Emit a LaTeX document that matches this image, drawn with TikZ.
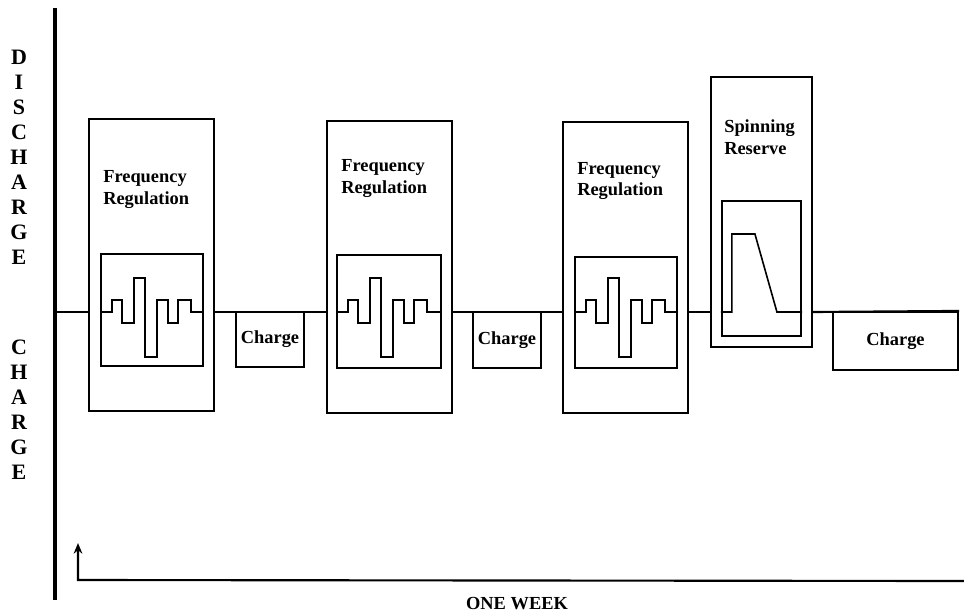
\documentclass[tikz,border=0pt]{standalone}
\usepackage{fontspec}
\setmainfont{Liberation Serif}
\usetikzlibrary{arrows.meta}
\begin{document}
\begin{tikzpicture}[x=0.75pt,y=-0.75pt,
  box/.style={draw,line width=1.6pt,inner sep=0pt},
  sz/.style 2 args={minimum width={#1*0.75pt},minimum height={#2*0.75pt}},
  lbl/.style={font=\fontsize{13.8}{16.5}\selectfont\bfseries,align=left,inner sep=0pt},
  side/.style={font=\fontsize{16.5}{18.75}\selectfont\bfseries,align=center,inner sep=0pt},
  wave/.style={line width=1.2pt},
  baseln/.style={line width=1.6pt},
  axisln/.style={line width=2.4pt}]
\useasboundingbox (0,0) rectangle (964,615);

% vertical axis
\coordinate (atop) at (55,8);
\coordinate (abot) at (55,600);
\draw[axisln] (atop) -- (abot);
\coordinate (b0) at (55,312);

% side labels
\node[side] (dis) at (19,157) {D\\I\\S\\C\\H\\A\\R\\G\\E};
\node[side] (chg) at (19,410) {C\\H\\A\\R\\G\\E};

% frequency regulation blocks
\node[box,sz={125}{292}] (fr1) at (151.5,265) {};
\node[box,sz={102}{112}] (in1) at (152,310) {};
\node[lbl,anchor=west] (t1) at (103,189) {Frequency\\Regulation};

\node[box,sz={125}{292}] (fr2) at (389.5,267) {};
\node[box,sz={104}{113}] (in2) at (389,311.5) {};
\node[lbl,anchor=west] (t2) at (341,179) {Frequency\\Regulation};

\node[box,sz={125}{291}] (fr3) at (625.5,267.5) {};
\node[box,sz={102}{111}] (in3) at (626,312.5) {};
\node[lbl,anchor=west] (t3) at (577,181) {Frequency\\Regulation};

% spinning reserve
\node[box,sz={101}{270}] (sr) at (761.5,212) {};
\node[box,sz={79}{135}] (sri) at (761.5,268.5) {};
\node[lbl,anchor=west] (t4) at (724,137) {Spinning\\Reserve};

% charge boxes
\node[box,lbl,sz={68}{55}] (c1) at (270,339.5) {Charge};
\node[box,lbl,sz={68}{56}] (c2) at (507,340) {Charge};
\node[box,lbl,sz={125}{58}] (c3) at (895.5,341) {Charge};

% baseline connectors
\draw[baseln] (b0) -- (fr1.west |- b0);
\draw[baseln] (fr1.east |- b0) -- (fr2.west |- b0);
\draw[baseln] (fr2.east |- b0) -- (fr3.west |- b0);
\draw[baseln] (fr3.east |- b0) -- (sr.west |- b0);
\draw[baseln] (sr.east |- b0) -- (c3.north east);

% waveforms
\foreach \n in {in1,in2,in3}{
  \draw[wave] (\n.west |- b0) -- ++(12,0) -- ++(0,-12) -- ++(10,0) -- ++(0,23)
    -- ++(12,0) -- ++(0,-45) -- ++(11,0) -- ++(0,79) -- ++(12,0) -- ++(0,-57)
    -- ++(11,0) -- ++(0,23) -- ++(10,0) -- ++(0,-23) -- ++(13,0) -- ++(0,12)
    -- (\n.east |- b0);
}
\draw[wave] (sri.west |- b0) -- ++(11,0) -- ++(0,-78) -- ++(23,0) -- ++(22,78)
  -- (sri.east |- b0);

% time arrow
\coordinate (corner) at (78,580);
\coordinate (tip) at (78,543);
\coordinate (tend) at (964,581);
\draw[line width=1.6pt,-{Stealth[length=8pt,width=6.5pt]}] (tend) -- (corner) -- (tip);
\node[font=\fontsize{13.8}{16}\selectfont\bfseries,inner sep=0pt] (ow) at (517,604) {ONE WEEK};
\end{tikzpicture}
\end{document}
